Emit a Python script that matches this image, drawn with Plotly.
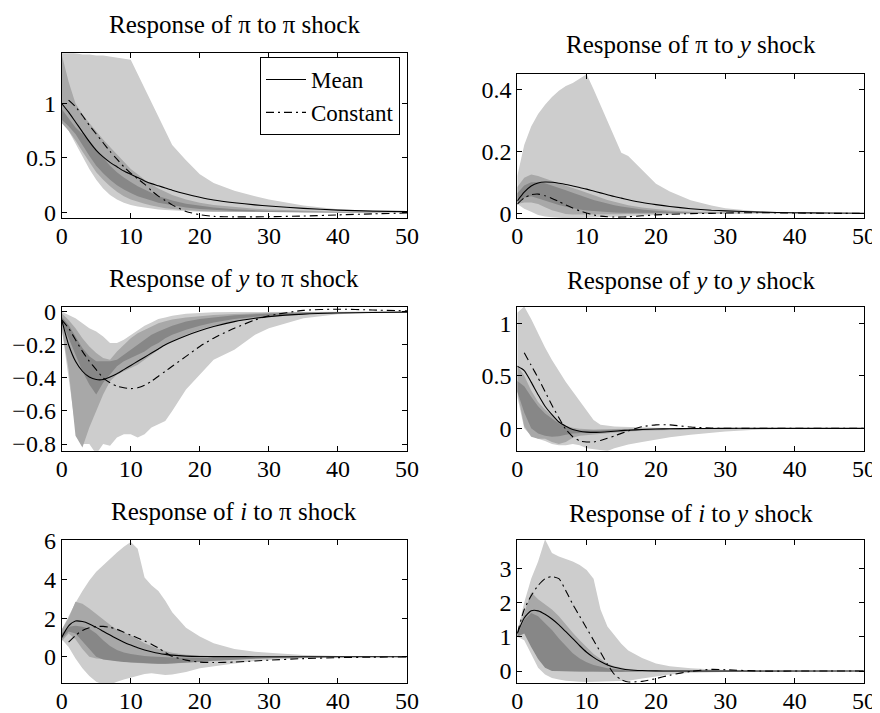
import plotly.graph_objects as go

# ---------------- data ----------------
T = [0, 1, 2, 3, 4, 5, 6, 7, 8, 9, 10, 11, 12, 13, 14, 15, 16, 18, 20, 22, 25, 28, 30, 35, 40, 45, 50]

titles = [
    "Response of π to π shock",
    "Response of π to <i>y</i> shock",
    "Response of <i>y</i> to π shock",
    "Response of <i>y</i> to <i>y</i> shock",
    "Response of <i>i</i> to π shock",
    "Response of <i>i</i> to <i>y</i> shock",
]
x_ticks = [0, 10, 20, 30, 40, 50]
y_ticks_1 = [0, 0.5, 1]
y_ticks_2 = [0, 0.2, 0.4]
y_ticks_3 = [-0.8, -0.6, -0.4, -0.2, 0]
y_ticks_4 = [0, 0.5, 1]
y_ticks_5 = [0, 2, 4, 6]
y_ticks_6 = [0, 1, 2, 3]

# Panel 1: pi to pi
mean_1 = [1.0, 0.92, 0.83, 0.74, 0.65, 0.57, 0.51, 0.46, 0.42, 0.38, 0.35, 0.32, 0.29, 0.265, 0.245, 0.225, 0.205, 0.17, 0.14, 0.115, 0.09, 0.07, 0.06, 0.038, 0.022, 0.013, 0.008]
const_1 = [None, 1.03, 0.97, 0.89, 0.8, 0.72, 0.64, 0.56, 0.49, 0.42, 0.36, 0.31, 0.26, 0.2, 0.15, 0.11, 0.07, 0.01, -0.02, -0.035, -0.04, -0.04, -0.038, -0.032, -0.022, -0.012, -0.005]
light_hi_1 = [1.47, 1.47, 1.46, 1.45, 1.45, 1.44, 1.44, 1.43, 1.42, 1.41, 1.4, 1.27, 1.14, 1.0, 0.88, 0.75, 0.62, 0.48, 0.35, 0.27, 0.2, 0.15, 0.12, 0.065, 0.03, 0.015, 0.008]
light_lo_1 = [0.85, 0.75, 0.63, 0.52, 0.4, 0.3, 0.22, 0.16, 0.12, 0.09, 0.07, 0.055, 0.045, 0.035, 0.028, 0.022, 0.018, 0.012, 0.008, 0.005, 0.003, 0.002, 0.001, 0, 0, 0, 0]
mid_hi_1 = [1.45, 1.2, 1.0, 0.9, 0.82, 0.74, 0.67, 0.6, 0.53, 0.46, 0.4, 0.35, 0.3, 0.26, 0.22, 0.19, 0.16, 0.12, 0.09, 0.07, 0.05, 0.035, 0.028, 0.015, 0.008, 0.004, 0.002]
mid_lo_1 = [0.82, 0.75, 0.66, 0.56, 0.46, 0.37, 0.3, 0.24, 0.19, 0.15, 0.12, 0.1, 0.08, 0.065, 0.05, 0.04, 0.032, 0.022, 0.015, 0.01, 0.006, 0.004, 0.003, 0.001, 0, 0, 0]
dark_hi_1 = [0.95, 0.87, 0.78, 0.72, 0.66, 0.58, 0.5, 0.43, 0.37, 0.32, 0.28, 0.24, 0.21, 0.18, 0.15, 0.13, 0.11, 0.08, 0.06, 0.045, 0.03, 0.02, 0.015, 0.008, 0.004, 0.002, 0.001]
dark_lo_1 = [0.85, 0.79, 0.72, 0.62, 0.52, 0.43, 0.36, 0.3, 0.25, 0.21, 0.18, 0.15, 0.13, 0.11, 0.09, 0.075, 0.065, 0.045, 0.032, 0.022, 0.014, 0.009, 0.006, 0.003, 0.001, 0, 0]

# Panel 2: pi to y
mean_2 = [0.04, 0.068, 0.088, 0.098, 0.101, 0.1, 0.097, 0.093, 0.088, 0.083, 0.078, 0.072, 0.066, 0.06, 0.054, 0.049, 0.044, 0.035, 0.028, 0.022, 0.015, 0.01, 0.008, 0.004, 0.002, 0.001, 0.0005]
const_2 = [0.03, 0.05, 0.06, 0.062, 0.057, 0.048, 0.038, 0.027, 0.017, 0.008, 0.001, -0.005, -0.009, -0.011, -0.012, -0.012, -0.011, -0.008, -0.005, -0.003, -0.001, 0.0, 0.001, 0.002, 0.001, 0.0, 0.0]
light_hi_2 = [0.12, 0.22, 0.28, 0.32, 0.35, 0.375, 0.395, 0.41, 0.42, 0.435, 0.448, 0.4, 0.35, 0.3, 0.25, 0.195, 0.185, 0.14, 0.095, 0.07, 0.042, 0.025, 0.016, 0.006, 0.002, 0.001, 0.0]
light_lo_2 = [0.03, 0.015, 0.005, -0.005, -0.01, -0.013, -0.015, -0.016, -0.016, -0.016, -0.016, -0.015, -0.014, -0.013, -0.012, -0.011, -0.01, -0.008, -0.006, -0.004, -0.002, -0.001, 0, 0, 0, 0, 0]
mid_hi_2 = [0.085, 0.115, 0.125, 0.12, 0.112, 0.105, 0.097, 0.09, 0.082, 0.074, 0.066, 0.058, 0.05, 0.043, 0.037, 0.031, 0.026, 0.019, 0.013, 0.009, 0.005, 0.003, 0.002, 0.001, 0, 0, 0]
mid_lo_2 = [0.03, 0.035, 0.035, 0.03, 0.02, 0.01, 0.003, -0.002, -0.004, -0.005, -0.005, -0.005, -0.004, -0.004, -0.003, -0.003, -0.002, -0.001, -0.001, 0, 0, 0, 0, 0, 0, 0, 0]
dark_hi_2 = [0.065, 0.09, 0.1, 0.1, 0.097, 0.09, 0.082, 0.074, 0.066, 0.058, 0.05, 0.043, 0.037, 0.031, 0.026, 0.022, 0.018, 0.012, 0.008, 0.005, 0.003, 0.002, 0.001, 0, 0, 0, 0]
dark_lo_2 = [0.035, 0.05, 0.055, 0.05, 0.042, 0.034, 0.027, 0.021, 0.016, 0.012, 0.009, 0.007, 0.005, 0.004, 0.003, 0.002, 0.002, 0.001, 0.001, 0, 0, 0, 0, 0, 0, 0, 0]

# Panel 3: y to pi
mean_3 = [-0.05, -0.2, -0.3, -0.36, -0.395, -0.41, -0.41, -0.395, -0.375, -0.35, -0.325, -0.3, -0.275, -0.25, -0.225, -0.2, -0.18, -0.145, -0.115, -0.09, -0.06, -0.04, -0.03, -0.015, -0.008, -0.005, -0.003]
const_3 = [-0.05, -0.1, -0.17, -0.24, -0.3, -0.35, -0.4, -0.43, -0.45, -0.46, -0.465, -0.46, -0.445, -0.42, -0.39, -0.36, -0.33, -0.27, -0.21, -0.16, -0.1, -0.05, -0.025, 0.008, 0.015, 0.01, 0.005]
light_hi_3 = [0.0, -0.02, -0.04, -0.07, -0.1, -0.12, -0.15, -0.19, -0.19, -0.17, -0.14, -0.11, -0.085, -0.065, -0.045, -0.035, -0.025, -0.012, -0.007, -0.004, -0.002, -0.001, 0, 0, 0, 0, 0]
light_lo_3 = [-0.1, -0.4, -0.7, -0.8, -0.8, -0.86, -0.8, -0.81, -0.76, -0.74, -0.74, -0.76, -0.74, -0.7, -0.68, -0.66, -0.6, -0.47, -0.38, -0.29, -0.23, -0.14, -0.1, -0.04, -0.015, -0.006, -0.002]
mid_hi_3 = [-0.01, -0.05, -0.1, -0.16, -0.21, -0.25, -0.28, -0.29, -0.24, -0.2, -0.16, -0.13, -0.11, -0.09, -0.07, -0.058, -0.048, -0.035, -0.027, -0.02, -0.014, -0.009, -0.007, -0.003, -0.001, 0, 0]
mid_lo_3 = [-0.1, -0.35, -0.75, -0.82, -0.7, -0.6, -0.5, -0.42, -0.38, -0.36, -0.34, -0.32, -0.29, -0.26, -0.23, -0.2, -0.18, -0.14, -0.11, -0.085, -0.06, -0.04, -0.03, -0.015, -0.007, -0.003, -0.001]
dark_hi_3 = [-0.03, -0.08, -0.15, -0.22, -0.27, -0.3, -0.3, -0.3, -0.29, -0.26, -0.23, -0.2, -0.17, -0.14, -0.12, -0.1, -0.085, -0.06, -0.045, -0.035, -0.022, -0.015, -0.011, -0.005, -0.002, -0.001, 0]
dark_lo_3 = [-0.06, -0.15, -0.26, -0.36, -0.44, -0.5, -0.43, -0.38, -0.33, -0.3, -0.28, -0.26, -0.24, -0.21, -0.19, -0.16, -0.14, -0.11, -0.085, -0.065, -0.045, -0.03, -0.022, -0.01, -0.005, -0.002, -0.001]

# Panel 4: y to y
mean_4 = [0.59, 0.55, 0.44, 0.32, 0.21, 0.13, 0.06, 0.02, -0.012, -0.028, -0.036, -0.039, -0.037, -0.033, -0.028, -0.022, -0.018, -0.011, -0.006, -0.004, -0.002, -0.001, 0, 0, 0, 0, 0]
const_4 = [None, 0.72, 0.6, 0.48, 0.35, 0.22, 0.1, -0.01, -0.08, -0.12, -0.13, -0.13, -0.115, -0.095, -0.072, -0.048, -0.025, 0.015, 0.033, 0.033, 0.012, 0.002, 0.0, 0.0, 0.0, 0.0, 0.0]
light_hi_4 = [1.1, 1.16, 1.04, 0.9, 0.77, 0.65, 0.54, 0.44, 0.35, 0.26, 0.17, 0.08, 0.035, 0.025, 0.018, 0.014, 0.011, 0.008, 0.005, 0.003, 0.002, 0.001, 0, 0, 0, 0, 0]
light_lo_4 = [0.3, 0.0, -0.07, -0.1, -0.12, -0.15, -0.16, -0.16, -0.15, -0.16, -0.19, -0.2, -0.205, -0.215, -0.19, -0.17, -0.155, -0.13, -0.105, -0.085, -0.06, -0.04, -0.03, -0.012, -0.005, -0.002, 0]
mid_hi_4 = [0.6, 0.5, 0.36, 0.25, 0.18, 0.12, 0.065, 0.025, 0.005, -0.005, -0.01, -0.01, -0.008, -0.006, -0.005, -0.004, -0.003, -0.002, -0.001, 0, 0, 0, 0, 0, 0, 0, 0]
mid_lo_4 = [0.35, 0.02, -0.08, -0.1, -0.1, -0.13, -0.15, -0.13, -0.09, -0.07, -0.06, -0.055, -0.05, -0.045, -0.04, -0.035, -0.03, -0.023, -0.018, -0.014, -0.01, -0.006, -0.004, -0.002, -0.001, 0, 0]
dark_hi_4 = [0.45, 0.4, 0.3, 0.21, 0.14, 0.09, 0.045, 0.01, -0.01, -0.02, -0.022, -0.022, -0.02, -0.017, -0.014, -0.011, -0.009, -0.006, -0.004, -0.003, -0.002, -0.001, 0, 0, 0, 0, 0]
dark_lo_4 = [0.35, 0.15, 0.0, -0.05, -0.07, -0.08, -0.075, -0.06, -0.05, -0.045, -0.04, -0.037, -0.034, -0.03, -0.026, -0.022, -0.019, -0.014, -0.01, -0.007, -0.004, -0.002, -0.001, 0, 0, 0, 0]

# Panel 5: i to pi
mean_5 = [1.0, 1.6, 1.85, 1.82, 1.7, 1.52, 1.32, 1.12, 0.93, 0.75, 0.6, 0.46, 0.35, 0.26, 0.18, 0.12, 0.08, 0.03, 0.01, 0.003, 0.001, 0, 0, 0, 0, 0, 0]
const_5 = [None, 0.75, 1.1, 1.36, 1.5, 1.56, 1.57, 1.52, 1.42, 1.27, 1.12, 0.97, 0.82, 0.65, 0.45, 0.22, 0.02, -0.18, -0.28, -0.3, -0.28, -0.22, -0.18, -0.1, -0.05, -0.025, -0.01]
light_hi_5 = [1.4, 2.1, 2.8, 3.4, 3.95, 4.4, 4.75, 5.1, 5.4, 5.7, 5.95, 5.6, 4.1, 3.7, 3.4, 2.9, 2.3, 1.5, 1.05, 0.7, 0.4, 0.26, 0.2, 0.09, 0.03, 0.012, 0.005]
light_lo_5 = [0.9, 0.5, -0.1, -0.6, -1.0, -1.3, -1.45, -1.45, -1.3, -1.18, -1.08, -0.98, -0.9, -0.86, -0.9, -0.95, -0.93, -0.8, -0.6, -0.5, -0.35, -0.22, -0.17, -0.08, -0.04, -0.015, -0.005]
mid_hi_5 = [1.4, 2.0, 2.85, 2.75, 2.5, 2.2, 1.95, 1.65, 1.4, 1.25, 1.1, 0.9, 0.7, 0.55, 0.4, 0.3, 0.2, 0.1, 0.05, 0.025, 0.01, 0.005, 0.003, 0.001, 0, 0, 0]
mid_lo_5 = [0.8, 1.2, 0.9, 0.4, 0.0, -0.1, -0.12, -0.16, -0.2, -0.25, -0.3, -0.33, -0.35, -0.37, -0.38, -0.38, -0.37, -0.33, -0.28, -0.23, -0.16, -0.1, -0.08, -0.04, -0.015, -0.005, 0]
dark_hi_5 = [1.2, 1.55, 1.6, 1.55, 1.45, 1.2, 0.85, 0.55, 0.35, 0.22, 0.14, 0.08, 0.04, 0.01, -0.01, -0.03, -0.04, -0.05, -0.05, -0.045, -0.035, -0.025, -0.018, -0.008, -0.003, -0.001, 0]
dark_lo_5 = [0.9, 1.3, 1.2, 0.8, 0.4, 0.0, -0.15, -0.2, -0.24, -0.27, -0.3, -0.32, -0.34, -0.35, -0.36, -0.36, -0.35, -0.31, -0.26, -0.21, -0.15, -0.1, -0.075, -0.035, -0.014, -0.005, 0]

# Panel 6: i to y
mean_6 = [1.1, 1.55, 1.76, 1.76, 1.66, 1.52, 1.35, 1.15, 0.95, 0.74, 0.55, 0.4, 0.28, 0.18, 0.11, 0.07, 0.04, 0.015, 0.005, 0.002, 0.001, 0, 0, 0, 0, 0, 0]
const_6 = [1.1, 1.8, 2.2, 2.5, 2.7, 2.76, 2.7, 2.35, 1.95, 1.6, 1.25, 0.9, 0.55, 0.2, -0.1, -0.25, -0.32, -0.3, -0.22, -0.12, -0.01, 0.05, 0.04, 0.0, 0.0, 0.0, 0.0]
light_hi_6 = [1.15, 2.0, 2.7, 3.2, 3.85, 3.45, 3.35, 3.28, 3.2, 3.1, 2.95, 2.7, 1.8, 1.3, 1.05, 0.8, 0.6, 0.38, 0.22, 0.14, 0.08, 0.045, 0.03, 0.01, 0.004, 0.002, 0]
light_lo_6 = [1.0, 0.9, 0.5, 0.1, -0.1, -0.2, -0.25, -0.28, -0.3, -0.31, -0.32, -0.31, -0.3, -0.3, -0.3, -0.29, -0.28, -0.22, -0.15, -0.1, -0.05, -0.03, -0.02, -0.008, -0.003, -0.001, 0]
mid_hi_6 = [1.1, 1.7, 2.3, 2.1, 1.95, 1.8, 1.6, 1.35, 1.12, 0.9, 0.7, 0.5, 0.35, 0.22, 0.14, 0.09, 0.06, 0.025, 0.012, 0.006, 0.002, 0.001, 0, 0, 0, 0, 0]
mid_lo_6 = [1.0, 1.2, 0.9, 0.5, 0.2, 0.05, 0.0, -0.01, -0.02, -0.02, -0.02, -0.02, -0.02, -0.02, -0.02, -0.015, -0.01, -0.007, -0.005, -0.003, -0.001, 0, 0, 0, 0, 0, 0]
dark_hi_6 = [1.05, 1.5, 1.7, 1.6, 1.4, 1.2, 0.95, 0.72, 0.52, 0.37, 0.26, 0.18, 0.12, 0.08, 0.05, 0.03, 0.02, 0.01, 0.005, 0.002, 0, 0, 0, 0, 0, 0, 0]
dark_lo_6 = [1.0, 1.1, 0.7, 0.35, 0.1, 0.0, -0.01, -0.01, -0.01, -0.01, -0.01, -0.015, -0.02, -0.025, -0.028, -0.025, -0.02, -0.015, -0.01, -0.006, -0.003, -0.001, 0, 0, 0, 0, 0]

panels = [
    (mean_1, const_1, light_hi_1, light_lo_1, mid_hi_1, mid_lo_1, dark_hi_1, dark_lo_1, y_ticks_1),
    (mean_2, const_2, light_hi_2, light_lo_2, mid_hi_2, mid_lo_2, dark_hi_2, dark_lo_2, y_ticks_2),
    (mean_3, const_3, light_hi_3, light_lo_3, mid_hi_3, mid_lo_3, dark_hi_3, dark_lo_3, y_ticks_3),
    (mean_4, const_4, light_hi_4, light_lo_4, mid_hi_4, mid_lo_4, dark_hi_4, dark_lo_4, y_ticks_4),
    (mean_5, const_5, light_hi_5, light_lo_5, mid_hi_5, mid_lo_5, dark_hi_5, dark_lo_5, y_ticks_5),
    (mean_6, const_6, light_hi_6, light_lo_6, mid_hi_6, mid_lo_6, dark_hi_6, dark_lo_6, y_ticks_6),
]

# ---------------- layout geometry (pixels in the 880x713 page) ----------------
OFF = 8  # the page body has an 8px margin: the figure starts at (8, 8)
W, H = 880 - OFF, 713 - OFF
x_px = [(61.7, 407.0), (517.3, 864.0)] * 3
y_px = [(53.3, 218.3), (74.0, 218.3), (306.7, 450.7), (306.7, 450.7), (540.0, 683.3), (540.0, 682.7)]
y_ranges = [(-0.053, 1.46), (-0.016, 0.449), (-0.84, 0.03), (-0.213, 1.158), (-1.38, 6.05), (-0.34, 3.83)]
title_y_px = [24, 45, 278, 280, 511, 513]


def px_x(v):
    return (v - OFF) / W


def px_y(v):
    return 1 - (v - OFF) / H


LIGHT, MID, DARK = "#cdcdcd", "#a8a8a8", "#878787"
FONT = "Liberation Serif"
DASHDOT = "8px,4px,2px,4px"

fig = go.Figure()
layout = dict(
    width=W, height=H, margin=dict(l=0, r=0, t=0, b=0, autoexpand=False),
    paper_bgcolor="white", plot_bgcolor="white",
    font=dict(family=FONT, size=24, color="black"),
    showlegend=True,
    legend=dict(x=px_x(400), y=px_y(57), xanchor="right", yanchor="top",
                bgcolor="white", bordercolor="black", borderwidth=1,
                font=dict(family=FONT, size=23, color="black"),
                tracegroupgap=0, itemwidth=40),
    annotations=[],
)

for i, (mean, const, lh, ll, mh, ml, dh, dl, yt) in enumerate(panels):
    n = i + 1
    xa = "x" if n == 1 else f"x{n}"
    ya = "y" if n == 1 else f"y{n}"
    for hi, lo, col in [(lh, ll, LIGHT), (mh, ml, MID), (dh, dl, DARK)]:
        fig.add_trace(go.Scatter(
            x=T + T[::-1], y=hi + lo[::-1], fill="toself", fillcolor=col,
            line=dict(width=0), mode="lines", hoverinfo="skip",
            showlegend=False, xaxis=xa, yaxis=ya))
    fig.add_trace(go.Scatter(
        x=T, y=mean, mode="lines", name="Mean",
        line=dict(color="black", width=1.1, shape="spline", smoothing=0.6),
        showlegend=(n == 1), xaxis=xa, yaxis=ya))
    fig.add_trace(go.Scatter(
        x=T, y=const, mode="lines", name="Constant",
        line=dict(color="black", width=1.1, dash=DASHDOT, shape="spline", smoothing=0.6),
        showlegend=(n == 1), xaxis=xa, yaxis=ya))

    x0, x1 = x_px[i]
    yt0, yb0 = y_px[i]
    common = dict(showline=True, mirror="ticks", linecolor="black", linewidth=1,
                  ticks="inside", ticklen=5, tickcolor="black", tickwidth=1,
                  showgrid=False, zeroline=False,
                  tickfont=dict(family=FONT, size=24, color="black"))
    layout["xaxis" if n == 1 else f"xaxis{n}"] = dict(
        domain=[px_x(x0), px_x(x1)], anchor=ya, range=[0, 50],
        tickvals=x_ticks, ticklabelstandoff=-4, **common)
    layout["yaxis" if n == 1 else f"yaxis{n}"] = dict(
        domain=[px_y(yb0), px_y(yt0)], anchor=xa, range=list(y_ranges[i]),
        tickvals=yt, **common)
    layout["annotations"].append(dict(
        text=titles[i], x=px_x((x0 + x1) / 2), y=px_y(title_y_px[i]),
        xref="paper", yref="paper", xanchor="center", yanchor="middle",
        showarrow=False, font=dict(family=FONT, size=25, color="black")))

fig.update_layout(**layout)
fig.write_html("out.html")
